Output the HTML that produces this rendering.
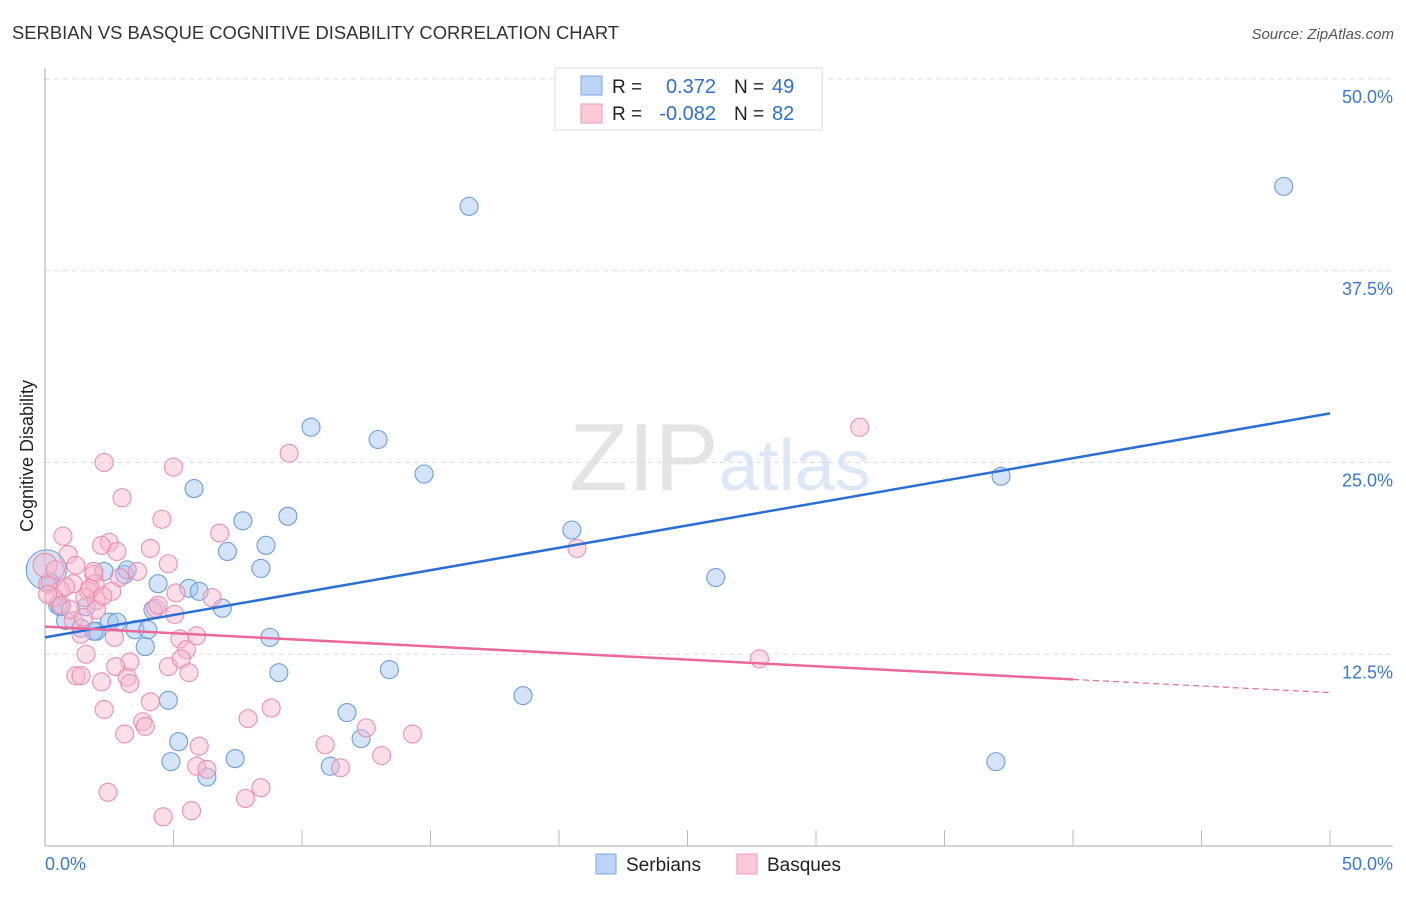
<!DOCTYPE html>
<html><head><meta charset="utf-8"><style>
body{margin:0;background:#fff;font-family:"Liberation Sans",sans-serif;}
svg text{font-family:"Liberation Sans",sans-serif;}
</style></head><body>
<svg id="c" width="1406" height="892">
<text x="12" y="39" font-size="18.4" fill="#333">SERBIAN VS BASQUE COGNITIVE DISABILITY CORRELATION CHART</text>
<text x="1394" y="39" font-size="15" fill="#555" font-style="italic" text-anchor="end">Source: ZipAtlas.com</text>
<text x="0" y="0" font-size="18" fill="#222" transform="translate(33,456) rotate(-90)" text-anchor="middle">Cognitive Disability</text>
<text x="720" y="490" font-size="96" fill="#e6e6e6" text-anchor="middle" font-family="Liberation Serif"><tspan fill="#e4e4e4">ZIP</tspan><tspan fill="#dde7f5" font-family="Liberation Sans" font-size="72">atlas</tspan></text>
<g id="grid"></g><g id="axes"></g><g id="pts"></g><g id="lines"></g>
<g>
<rect x="555" y="68" width="267" height="62" fill="#fff" stroke="#ddd"/>
<rect x="581" y="76" width="21" height="19" fill="#bcd4f5" stroke="#7aa5e6"/>
<rect x="581" y="104" width="21" height="19" fill="#fcc9d8" stroke="#ee9ab5"/>
<text x="612" y="93" font-size="19" fill="#222">R =</text><text x="716" y="93" font-size="20" fill="#2f6fd0" text-anchor="end">0.372</text>
<text x="734" y="93" font-size="19" fill="#222">N =</text><text x="772" y="93" font-size="20" fill="#2f6fd0">49</text>
<text x="612" y="120" font-size="19" fill="#222">R =</text><text x="716" y="120" font-size="20" fill="#2f6fd0" text-anchor="end">-0.082</text>
<text x="734" y="120" font-size="19" fill="#222">N =</text><text x="772" y="120" font-size="20" fill="#2f6fd0">82</text>
</g>
<g>
<rect x="596" y="854" width="20" height="20" fill="#bcd4f5" stroke="#7aa5e6"/>
<text x="626" y="871" font-size="19" fill="#222">Serbians</text>
<rect x="737" y="854" width="20" height="20" fill="#fcc9d8" stroke="#ee9ab5"/>
<text x="767" y="871" font-size="19" fill="#222">Basques</text>
</g>
</svg>
<script>
const yTicks=[12.5,25,37.5,50];
const yTickLabels=["12.5%","25.0%","37.5%","50.0%"];
const serbX=[48.2,16.5,10.35,12.96,14.75,37.2,5.8,9.45,7.7,20.5,8.6,7.1,8.4,2.3,3.1,3.2,4.4,5.6,6.0,6.9,4.2,0.5,0.8,1.6,1.4,2.0,2.5,2.8,3.5,4.0,3.9,8.75,26.1,9.1,13.4,18.6,4.8,11.75,5.2,12.3,4.9,7.4,11.1,6.3,37.0,0.05,0.2,1.9,0.6];
const serbY=[43.0,41.7,27.3,26.5,24.25,24.1,23.3,21.5,21.2,20.6,19.6,19.2,18.1,17.9,17.7,18.0,17.1,16.8,16.6,15.5,15.4,15.7,14.7,15.6,14.2,14.0,14.6,14.6,14.1,14.1,13.0,13.6,17.5,11.3,11.5,9.8,9.5,8.7,6.8,7.0,5.5,5.7,5.2,4.5,5.5,18.0,17.2,14.0,15.6];
const basqX=[2.3,5.0,9.5,31.7,3.0,4.55,6.8,0.7,20.7,2.5,2.2,2.8,4.1,0.9,1.2,4.8,3.6,1.9,2.9,1.95,0.1,1.1,0.6,1.7,2.6,5.1,6.5,2.0,0.35,1.55,0.65,4.3,5.05,2.0,0.1,1.4,2.7,5.9,5.25,5.5,1.6,3.3,4.8,2.75,5.3,1.2,1.4,5.6,2.2,3.2,3.3,27.8,4.1,2.3,7.9,8.8,3.8,3.9,3.1,6.0,12.5,14.3,10.9,13.1,5.9,11.5,6.3,8.4,7.8,2.45,5.7,4.6,0,0.4,1.75,1.1,1.0,4.4,2.25,0.8,1.9,1.5];
const basqY=[25.0,24.7,25.6,27.3,22.7,21.3,20.4,20.2,19.4,19.8,19.6,19.2,19.4,19.0,18.3,18.4,17.9,17.7,17.5,17.1,17.1,17.1,16.7,16.6,16.6,16.5,16.2,16.0,16.2,16.2,15.7,15.5,15.1,15.4,16.4,13.8,13.6,13.7,13.5,12.8,12.5,12.0,11.7,11.7,12.2,11.1,11.1,11.3,10.7,11.0,10.6,12.2,9.4,8.9,8.3,9.0,8.1,7.8,7.3,6.5,7.7,7.3,6.6,5.9,5.2,5.1,5.0,3.8,3.1,3.5,2.3,1.9,18.3,18.0,16.8,14.7,15.4,15.7,16.3,16.9,17.9,14.9];
const serbFit=[13.6,28.2];
const basqFit=[14.3,10.0];
const basqFitEnd=40;
const NS="http://www.w3.org/2000/svg";
const X=v=>45+v*1285/50, Y=v=>846-v*767/50;
function mk(tag,attrs,parent){const e=document.createElementNS(NS,tag);for(const k in attrs)e.setAttribute(k,attrs[k]);document.getElementById(parent).appendChild(e);return e;}
yTicks.forEach((t,i)=>{
 const l=mk('line',{x1:45,x2:1393,y1:Y(t),y2:Y(t),stroke:'#ddd','stroke-dasharray':'5,4'},'grid');
 
 
 const tx=mk('text',{x:1393,y:Y(t)+24,'font-size':18,fill:'#3a78d4','text-anchor':'end'},'grid');
 tx.textContent=yTickLabels[i];
 
 
});
mk('line',{x1:45,x2:45,y1:68,y2:846,stroke:'#aaa'},'axes');
mk('line',{x1:45,x2:1393,y1:846,y2:846,stroke:'#aaa'},'axes');
for(let i=1;i<=10;i++){mk('line',{x1:X(i*5),x2:X(i*5),y1:830,y2:846,stroke:'#bbb'},'axes');}
let t0=mk('text',{x:45,y:870,'font-size':18,fill:'#3a78d4'},'axes');t0.textContent='0.0%';


let t1=mk('text',{x:1393,y:870,'font-size':18,fill:'#3a78d4','text-anchor':'end'},'axes');t1.textContent='50.0%';


serbX.forEach((x,i)=>{const c=mk('circle',{cx:X(x),cy:Y(serbY[i]),r:(i==45?20:9),fill:'rgba(160,195,240,0.45)',stroke:'#6b9de0','stroke-width':1.1},'pts');
 
 });
basqX.forEach((x,i)=>{const c=mk('circle',{cx:X(x),cy:Y(basqY[i]),r:(i==72?12:9),fill:'rgba(248,182,204,0.45)',stroke:'#ea8fae','stroke-width':1.1},'pts');
 
 });
const bl=mk('line',{x1:X(0),y1:Y(serbFit[0]),x2:X(50),y2:Y(serbFit[1]),stroke:'#2a6fd6','stroke-width':2.5},'lines');


const yAt=x=>basqFit[0]+(basqFit[1]-basqFit[0])*x/50;
const pl=mk('line',{x1:X(0),y1:Y(yAt(0)),x2:X(basqFitEnd),y2:Y(yAt(basqFitEnd)),stroke:'#e8699a','stroke-width':2.5},'lines');


const pd=mk('line',{x1:X(basqFitEnd),y1:Y(yAt(basqFitEnd)),x2:X(50),y2:Y(yAt(50)),stroke:'#e8699a','stroke-width':1.2,'stroke-dasharray':'6,4'},'lines');


</script>
</body></html>
